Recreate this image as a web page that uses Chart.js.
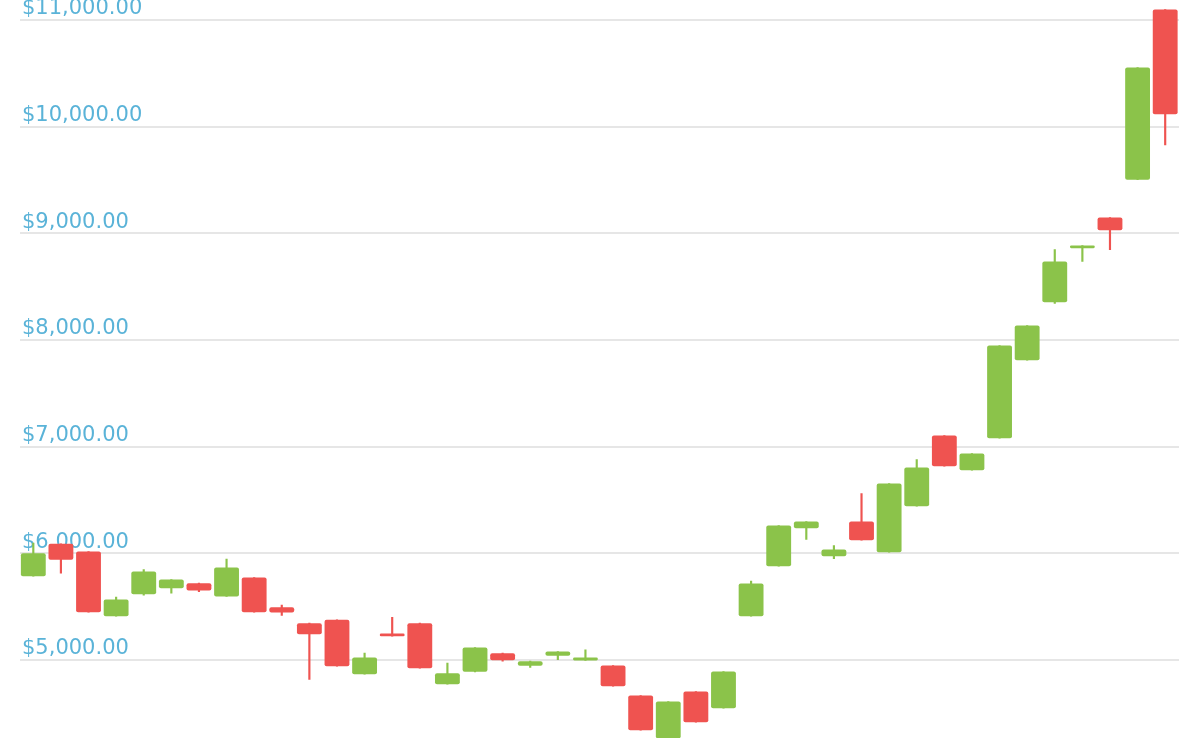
<!DOCTYPE html>
<html>
<head>
<meta charset="utf-8">
<script src="https://cdn.jsdelivr.net/npm/chart.js@4.4.1/dist/chart.umd.min.js"></script>
<style>
  html, body { margin: 0; padding: 0; background: #ffffff; overflow: hidden; }
  #wrap { position: relative; width: 1200px; height: 738px; }
</style>
</head>
<body>
<div id="wrap"><canvas id="c"></canvas></div>
<script>
const categories = Array.from({length: 42}, (_, i) => 'Day ' + (i + 1));
const opens  = [5786, 6089, 6017, 5411, 5617, 5673, 5720, 5595, 5773, 5495, 5345, 5377, 4867, 5248, 5345, 4773, 4889, 5064, 4945, 5039, 4995, 4948, 4667, 4267, 4705, 4548, 5411, 5879, 6236, 5973, 6298, 6011, 6442, 7105, 6780, 7079, 7811, 8354, 8861, 9148, 9502, 11098];
const highs  = [6095, 6089, 6017, 5589, 5848, 5755, 5720, 5945, 5773, 5514, 5345, 5377, 5064, 5401, 5345, 4970, 5117, 5064, 4989, 5080, 5095, 4948, 4667, 4611, 4705, 4892, 5739, 6261, 6298, 6073, 6561, 6655, 6880, 7105, 6936, 7948, 8136, 8848, 8886, 9148, 10555, 11098];
const lows   = [5786, 5814, 5448, 5411, 5608, 5626, 5641, 5595, 5448, 5417, 4817, 4942, 4867, 5223, 4923, 4773, 4889, 4989, 4930, 5004, 4995, 4754, 4342, 4267, 4417, 4548, 5411, 5879, 6130, 5949, 6123, 6011, 6442, 6817, 6780, 7079, 7811, 8342, 8736, 8848, 9502, 9830];
const closes = [6001, 5939, 5448, 5567, 5830, 5755, 5652, 5867, 5448, 5445, 5242, 4942, 5023, 5223, 4923, 4876, 5117, 4998, 4989, 5080, 5023, 4754, 4342, 4611, 4417, 4892, 5717, 6261, 6298, 6036, 6123, 6655, 6805, 6817, 6936, 7948, 8136, 8736, 8886, 9029, 10555, 10117];
const tickValues = [5000, 6000, 7000, 8000, 9000, 10000, 11000];
const yMin = 4268.75;
const yMax = 11187.5;

const UP = '#8bc34a';
const DOWN = '#ef5350';
const colors = opens.map((o, i) => closes[i] >= o ? UP : DOWN);

const setTicks = (scale) => { scale.ticks = tickValues.map(v => ({value: v})); };
const noPad = (scale) => { scale.paddingTop = 0; scale.paddingBottom = 0; scale.paddingLeft = 0; scale.paddingRight = 0; scale.width = 0; };

new Chart(document.getElementById('c'), {
  type: 'bar',
  data: {
    labels: categories,
    datasets: [
      {
        label: 'body',
        data: opens.map((o, i) => [o, closes[i]]),
        backgroundColor: colors,
        borderWidth: 0,
        borderRadius: 2,
        borderSkipped: false,
        categoryPercentage: 1,
        barPercentage: 0.9,
        grouped: false,
        order: 1
      },
      {
        label: 'wick',
        data: lows.map((l, i) => [l, highs[i]]),
        backgroundColor: colors,
        borderWidth: 0,
        barThickness: 1.5,
        grouped: false,
        order: 2
      }
    ]
  },
  options: {
    responsive: true,
    maintainAspectRatio: false,
    animation: false,
    layout: { padding: { left: 19.5, right: 21, top: 0, bottom: 0 } },
    plugins: { legend: { display: false }, tooltip: { enabled: false } },
    scales: {
      x: { display: false, offset: true },
      y: {
        position: 'left',
        min: yMin, max: yMax,
        afterBuildTicks: setTicks,
        afterFit: noPad,
        border: { display: false },
        grid: { color: '#e6e6e6', lineWidth: 2, drawTicks: false },
        ticks: { display: false }
      },
      yl: {
        position: 'left',
        min: yMin, max: yMax,
        z: 1,
        afterBuildTicks: setTicks,
        afterFit: noPad,
        border: { display: false },
        grid: { display: false, drawTicks: false },
        ticks: {
          mirror: true,
          padding: 2.5,
          labelOffset: -11,
          color: '#5ab3d8',
          font: { family: '"DejaVu Sans", Verdana, sans-serif', size: 21 },
          callback: (v) => '$' + Number(v).toLocaleString('en-US', {minimumFractionDigits: 2, maximumFractionDigits: 2})
        }
      }
    }
  }
});
</script>
</body>
</html>
